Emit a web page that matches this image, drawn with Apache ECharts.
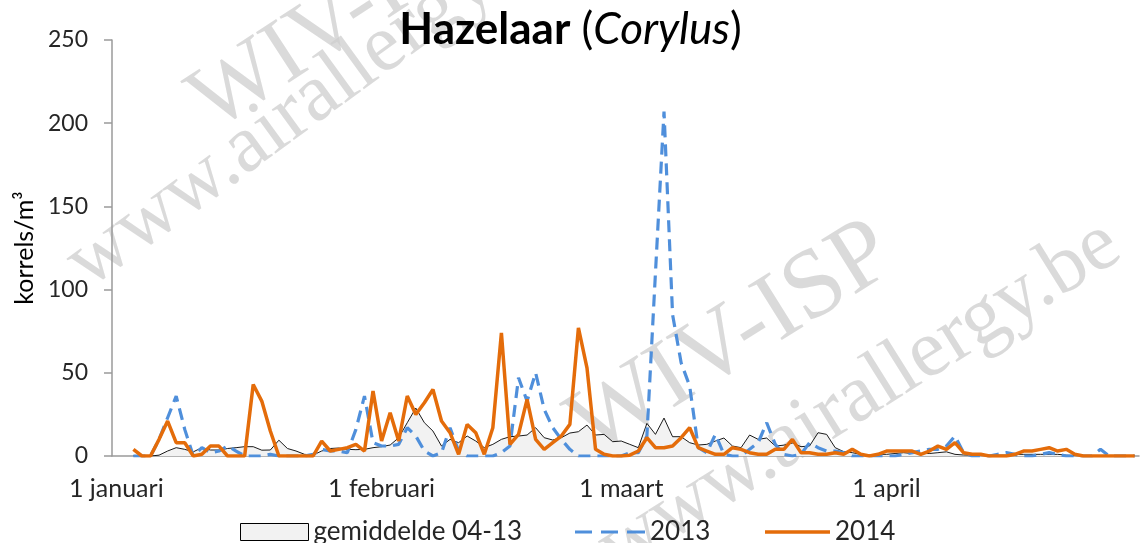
<!DOCTYPE html>
<html><head><meta charset="utf-8">
<script src="https://cdn.jsdelivr.net/npm/echarts@6/dist/echarts.min.js"></script>
<style>html,body{margin:0;padding:0;background:#fff}#c{width:1141px;height:543px}</style>
</head><body><div id="c"></div>
<script>
// Day index 0 = 1 januari ... 119 = 30 april
const dayCount = 120;
const monthTickIndex = [0, 31, 59, 90];
const monthTickLabels = ['1 januari', '1 februari', '1 maart', '1 april'];
const seriesNames = ['gemiddelde 04-13', '2013', '2014'];

const avg0413 = [
  null, null, 0, 0, 0, 0.5, 3, 5, 4, 2.5,
  5, 3.6, 3.6, 4.5, 5, 5.6, 5.6, 3.5, 3.6, 9.5,
  4.5, 3, 1, 0.6, 3, 4.5, 4.8, 4, 3.8, 4,
  5, 5.6, 6.6, 11, 20, 28.8, 20, 15, 6, 10,
  8, 12, 9, 5, 7, 10, 11.6, 12, 12.6, 17,
  11, 9.6, 11, 13.8, 14.6, 18.6, 12.6, 13, 8.6, 9,
  7, 5, 19.6, 13, 22.8, 11.6, 11.6, 8, 6.6, 7,
  9, 10.8, 6, 5, 12.6, 10, 10.8, 6, 6.5, 7.8,
  5.6, 6, 14, 13, 5, 2.6, 2, 1, 0.6, 1,
  1, 1.5, 2, 1.5, 1.5, 1.5, 2, 2.5, 1, 0.6,
  0.5, 0.5, 0.5, 0.5, 0.5, 1, 1, 1, 1, 1,
  1, 0.5, 0.3, 0.3, 0.3, 0.3, 0.3, 0.3, 0.3, 0.3
];
const y2013 = [
  null, null, 0, 0, 0, 10, 23, 36, 16, 0,
  5, 2, 3, 6, 3, 0, 0, 0, 1, 0,
  0, 0, 0, 1, 4, 3, 3, 2, 16, 36,
  8, 6, 6, 7, 17, 12, 3, 0, 2, 17,
  3, 0, 0, 0, 0, 2, 6, 47, 33, 50,
  28, 17, 10, 4, 0, 0, 0, 0, 0, 0,
  2, 2, 12, 110, 207, 85, 56, 42, 5, 2,
  13, 1, 0, 0, 4, 8, 20, 7, 1, 0,
  1, 8, 5, 3, 3, 2, 0, 0, 0, 0,
  0, 0, 1, 2, 3, 4, 4, 6, 12, 2,
  0, 0, 0, 1, 2, 1, 0, 0, 1, 2,
  1, 0, 0, 0, 0, 4, 0, 0, 0, 0
];
const y2014 = [
  null, null, 4, 0, 0, 10, 21, 8, 8, 0,
  1, 6, 6, 0, 0, 0, 43, 33, 15, 0,
  0, 0, 0, 0, 9, 3, 4, 5, 7, 3,
  39, 9, 26, 9, 36, 25, 32, 40, 21, 14,
  1, 19, 14, 1, 17, 74, 7, 13, 34, 10,
  4, 8, 12, 19, 77, 53, 4, 1, 0, 0,
  0.5, 3, 11, 5, 5, 6, 11, 17, 5, 3,
  1, 1, 5, 4, 2, 1, 1, 4, 4, 10,
  2, 2, 1, 1, 2, 1, 4, 1, 0, 1,
  3, 3, 3, 3, 1, 3, 6, 4, 8, 2,
  1, 1, 0, 0, 0, 1, 3, 3, 4, 5,
  3, 4, 1, 0, 0, 0, 0, 0, 0, 0
];

const categories = [];
for (let i = 0; i < dayCount; i++) categories.push(i);
const isMonthStart = (idx) => monthTickIndex.indexOf(idx) >= 0;

const FONT = 'Lato';
const AX = '#9a9a9a';
const TXT = '#262626';
const WM = 'rgba(205,205,205,0.75)';
const deg = Math.PI / 180;
const C13 = '#4F8FDB', C14 = '#E46C0A';

const dashIcon = 'path://M0,0h0.01v0.01h-0.01z M0,7h17v3h-17z M26,7h17v3h-17z M52,7h18v3h-18z M69.99,16.99h0.01v0.01h-0.01z';
const solidIcon = 'path://M0,0h0.01v0.01h-0.01z M0,6.75h65v3.5h-65z M64.99,16.99h0.01v0.01h-0.01z';
const legendBase = { top: 514, itemHeight: 17, textStyle: { fontFamily: FONT, fontSize: 26, color: TXT }, selectedMode: false };

const chart = echarts.init(document.getElementById('c'));
chart.setOption({
  animation: false,
  backgroundColor: '#fff',
  textStyle: { fontFamily: FONT },
  title: {
    text: '{b|Hazelaar}{n| (}{i|Corylus}{n|)}',
    left: 'center',
    top: 3,
    padding: [5, 21, 5, 5],
    textStyle: {
      rich: {
        b: { fontFamily: FONT, fontWeight: 'bold', fontSize: 44, color: '#000' },
        n: { fontFamily: FONT, fontWeight: 'normal', fontSize: 44, color: '#000' },
        i: { fontFamily: FONT, fontWeight: 'normal', fontStyle: 'italic', fontSize: 44, color: '#000' }
      }
    }
  },
  graphic: {
    elements: [
      { type: 'text', x: 225, y: 150, rotation: 33 * deg, z: 0, silent: true,
        style: { text: 'WIV-ISP', font: '92px "Liberation Serif"', fill: WM, verticalAlign: 'bottom' } },
      { type: 'text', x: 100, y: 305, rotation: 36 * deg, z: 0, silent: true,
        style: { text: 'www.airallergy.be', font: '82px "Liberation Serif"', fill: WM, verticalAlign: 'bottom' } },
      { type: 'text', x: 605, y: 478, rotation: 32 * deg, z: 0, silent: true,
        style: { text: 'WIV-ISP', font: '98px "Liberation Serif"', fill: WM, verticalAlign: 'bottom' } },
      { type: 'text', x: 628, y: 590, rotation: 32 * deg, z: 0, silent: true,
        style: { text: 'www.airallergy.be', font: '82px "Liberation Serif"', fill: WM, verticalAlign: 'bottom' } }
    ]
  },
  legend: [
    Object.assign({}, legendBase, { left: 235, itemWidth: 68,
      data: [{ name: seriesNames[0], icon: 'rect', itemStyle: { color: '#f2f2f2', borderColor: '#000', borderWidth: 1 } }] }),
    Object.assign({}, legendBase, { left: 570, itemWidth: 70,
      data: [{ name: seriesNames[1], icon: dashIcon, itemStyle: { color: C13, borderWidth: 0 }, lineStyle: { width: 0 } }] }),
    Object.assign({}, legendBase, { left: 760, itemWidth: 65,
      data: [{ name: seriesNames[2], icon: solidIcon, itemStyle: { color: C14, borderWidth: 0 }, lineStyle: { width: 0 } }] })
  ],
  grid: { left: 112, right: 2, top: 40, bottom: 87, containLabel: false, outerBoundsMode: 'none' },
  xAxis: {
    type: 'category',
    data: categories,
    boundaryGap: true,
    axisLine: { lineStyle: { color: AX, width: 1.5 } },
    axisTick: { alignWithLabel: true, length: 8, interval: (idx) => isMonthStart(idx) && idx > 0, lineStyle: { color: AX, width: 1.5 } },
    axisLabel: {
      interval: (idx) => isMonthStart(idx),
      formatter: (v) => monthTickLabels[monthTickIndex.indexOf(Number(v))] || '',
      fontFamily: FONT, fontSize: 25, color: TXT, margin: 20
    },
    splitLine: { show: false }
  },
  yAxis: {
    type: 'value',
    min: 0, max: 250, interval: 50,
    name: 'korrels/m³',
    nameLocation: 'middle',
    nameRotate: 90,
    nameGap: 75,
    nameTextStyle: { fontFamily: FONT, fontSize: 25, color: '#000' },
    axisLine: { show: true, lineStyle: { color: AX, width: 1.5 } },
    axisTick: { show: true, length: 8, lineStyle: { color: AX, width: 1.5 } },
    axisLabel: { fontFamily: FONT, fontSize: 23, color: TXT, margin: 24 },
    splitLine: { show: false }
  },
  series: [
    {
      name: seriesNames[0], type: 'line', data: avg0413, symbol: 'none', z: 2,
      lineStyle: { color: '#1a1a1a', width: 1 },
      itemStyle: { color: '#f2f2f2', borderColor: '#000' },
      areaStyle: { color: '#f2f2f2', opacity: 1 }
    },
    {
      name: seriesNames[1], type: 'line', data: y2013, symbol: 'none', z: 3,
      lineStyle: { color: C13, width: 3.2, type: [12, 7] },
      itemStyle: { color: C13 }
    },
    {
      name: seriesNames[2], type: 'line', data: y2014, symbol: 'none', z: 4,
      lineStyle: { color: C14, width: 3.5 },
      itemStyle: { color: C14 }
    }
  ]
});
</script>
</body></html>
